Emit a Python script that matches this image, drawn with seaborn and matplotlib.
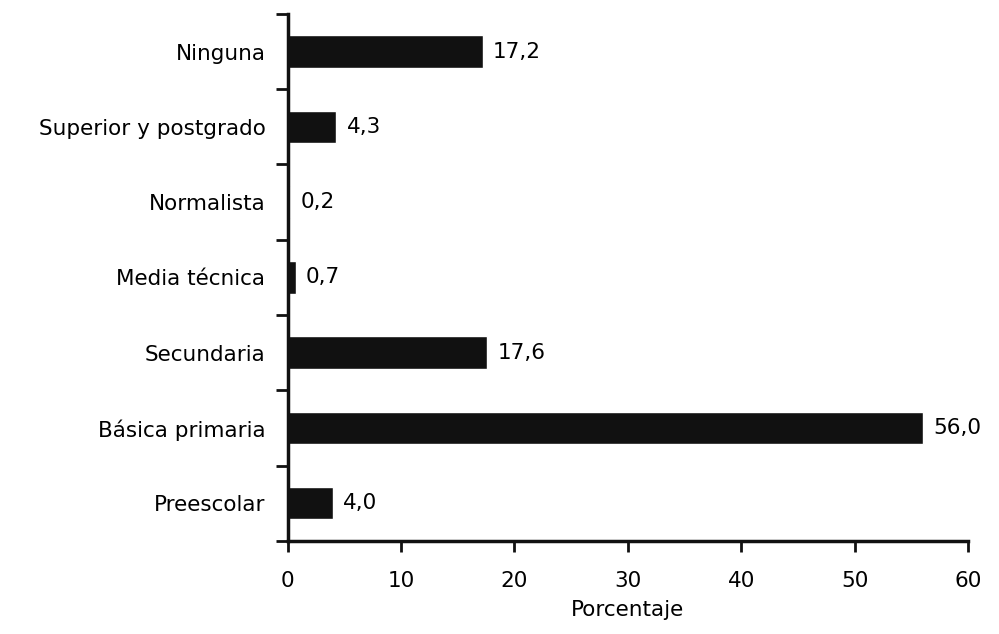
import matplotlib
matplotlib.use("Agg")
import matplotlib.pyplot as plt
import seaborn as sns
import pandas as pd
import numpy as np

categories = ["Ninguna", "Superior y postgrado", "Normalista", "Media técnica",
              "Secundaria", "Básica primaria", "Preescolar"]
values = [17.2, 4.3, 0.2, 0.7, 17.6, 56.0, 4.0]
value_labels = ["17,2", "4,3", "0,2", "0,7", "17,6", "56,0", "4,0"]
x_ticks = [0, 10, 20, 30, 40, 50, 60]

sns.set_theme(style="white")
plt.rcParams['font.family'] = ['DejaVu Sans']

df = pd.DataFrame({"cat": categories, "val": values})

fig = plt.figure(figsize=(9.99, 6.34), dpi=100)
ax = fig.add_axes([0.288, 0.147, 0.681, 0.831])

sns.barplot(data=df, x="val", y="cat", order=categories, color="#111111",
            width=0.43, orient="h", ax=ax, saturation=1)

fs = 15.5
for i, (v, lab) in enumerate(zip(values, value_labels)):
    ax.text(v + 0.9, i, lab, va="center", ha="left", fontsize=fs, color="black")

ax.set_xlim(0, 60)
ax.set_ylim(6.5, -0.5)
ax.set_xticks(x_ticks)
ax.set_xticklabels([str(t) for t in x_ticks], fontsize=fs, color="black")
ax.set_yticks(range(len(categories)))
ax.set_yticklabels(categories, fontsize=fs, color="black")
ax.tick_params(axis="y", which="major", length=0, pad=16)
ax.set_yticks(np.arange(-0.5, len(categories), 1.0), minor=True)
ax.tick_params(axis="y", which="minor", length=9, width=2, color="#111111", direction="out", left=True)
ax.tick_params(axis="x", which="major", length=8, width=2, color="#111111", direction="out", bottom=True, pad=14)
ax.set_xlabel("Porcentaje", fontsize=fs, labelpad=6, color="black")
ax.set_ylabel("")
for s in ["top", "right"]:
    ax.spines[s].set_visible(False)
for s in ["left", "bottom"]:
    ax.spines[s].set_linewidth(2.5)
    ax.spines[s].set_color("#111111")

fig.savefig("out.png", dpi=100, facecolor="white")
